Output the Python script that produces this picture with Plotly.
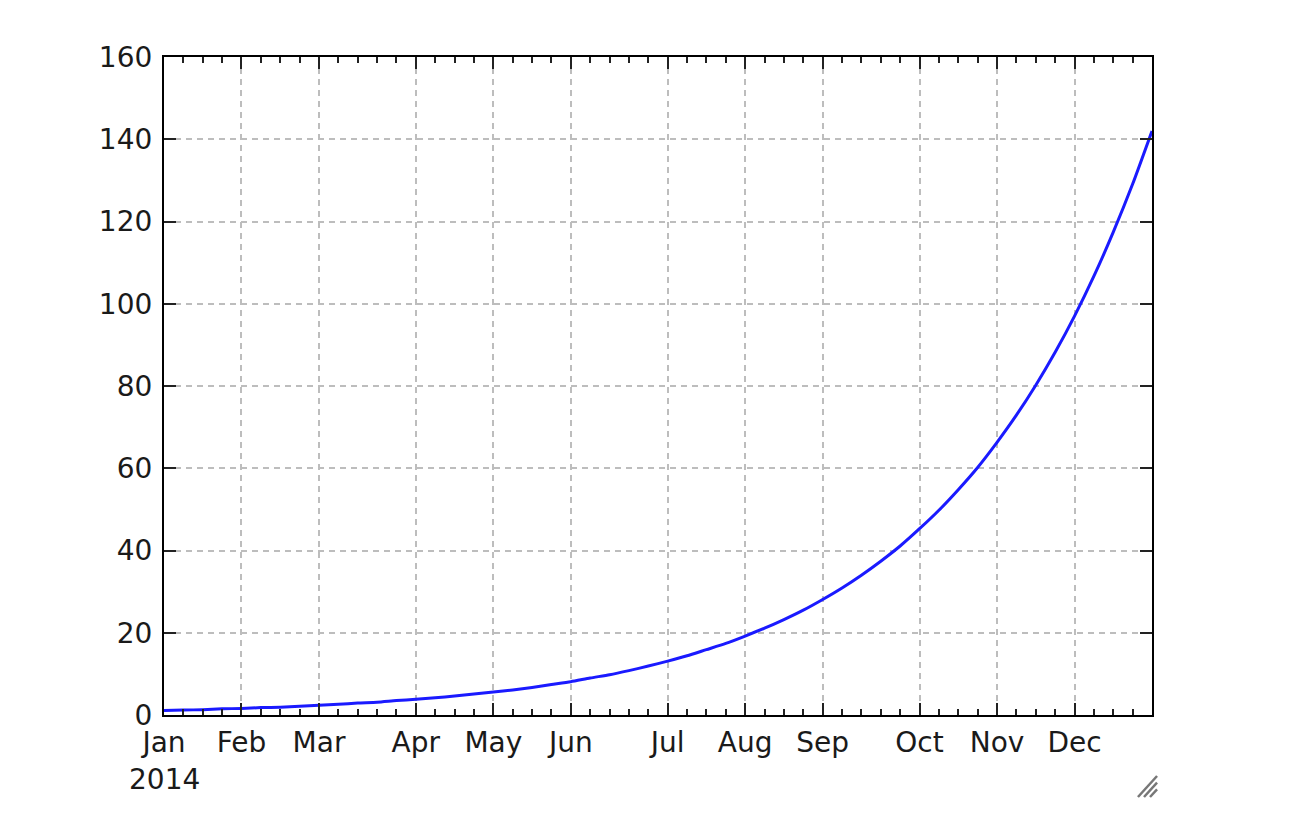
import plotly.graph_objects as go

# Weekly series (52 weeks of 2014)
week_index = list(range(52))
values = [1.1, 1.2, 1.3, 1.5, 1.6, 1.8, 1.9, 2.1, 2.4, 2.6,
          2.9, 3.1, 3.5, 3.8, 4.2, 4.6, 5.1, 5.6, 6.1, 6.7,
          7.4, 8.1, 9.0, 9.8, 10.8, 11.9, 13.1, 14.4, 15.9, 17.4,
          19.2, 21.1, 23.2, 25.5, 28.1, 30.9, 34.0, 37.4, 41.1, 45.3,
          49.8, 54.8, 60.2, 66.3, 72.9, 80.2, 88.2, 97.0, 106.7, 117.4,
          129.1, 142.0]

month_tick_weeks = [0, 4, 8, 13, 17, 21, 26, 30, 34, 39, 43, 47]
month_labels = ["Jan", "Feb", "Mar", "Apr", "May", "Jun",
                "Jul", "Aug", "Sep", "Oct", "Nov", "Dec"]
y_ticks = [0, 20, 40, 60, 80, 100, 120, 140, 160]
year_label = "2014"

FONT = "DejaVu Sans"

fig = go.Figure()
fig.add_trace(go.Scatter(
    x=week_index, y=values, mode="lines",
    line=dict(color="#1a1aff", width=3, shape="spline", smoothing=0.6),
    showlegend=False, hoverinfo="skip"))

axis_common = dict(
    showline=True, linecolor="black", linewidth=2.2, mirror="allticks",
    ticks="inside", tickcolor="#222", tickwidth=1.6, ticklen=12,
    showgrid=True, gridcolor="#bdbdbd", gridwidth=1.8, griddash="6px,5px",
    zeroline=False,
    tickfont=dict(family=FONT, size=28, color="#1a1a1a"),
)

fig.update_xaxes(
    **axis_common,
    range=[0, 51],
    tickmode="array", tickvals=month_tick_weeks, ticktext=month_labels,
    ticklabelstandoff=1,
    minor=dict(tickmode="linear", tick0=0, dtick=1, ticks="inside",
               ticklen=6, tickwidth=1.6, tickcolor="#222", showgrid=False),
)
fig.update_yaxes(
    **axis_common,
    range=[0, 160],
    tickmode="array", tickvals=y_ticks,
    ticklabelstandoff=4,
)

fig.add_annotation(
    x=0, y=0, xref="x", yref="paper", yshift=-46,
    text=year_label, showarrow=False, xanchor="center", yanchor="top",
    font=dict(family=FONT, size=28, color="#1a1a1a"))

# small striped resize-handle glyph at the lower right corner
for x0, y0, x1, y1 in [(0.9858, -0.1246, 1.0051, -0.0927),
                       (0.9919, -0.1246, 1.0051, -0.1028),
                       (0.9980, -0.1246, 1.0051, -0.1129)]:
    fig.add_shape(type="line", xref="paper", yref="paper",
                  x0=x0, y0=y0, x1=x1, y1=y1,
                  line=dict(color="#777777", width=2.5))

fig.update_layout(
    width=1299, height=824,
    margin=dict(l=156, r=155, t=49, b=117),
    plot_bgcolor="white", paper_bgcolor="white",
)

fig.write_html("out.html")
